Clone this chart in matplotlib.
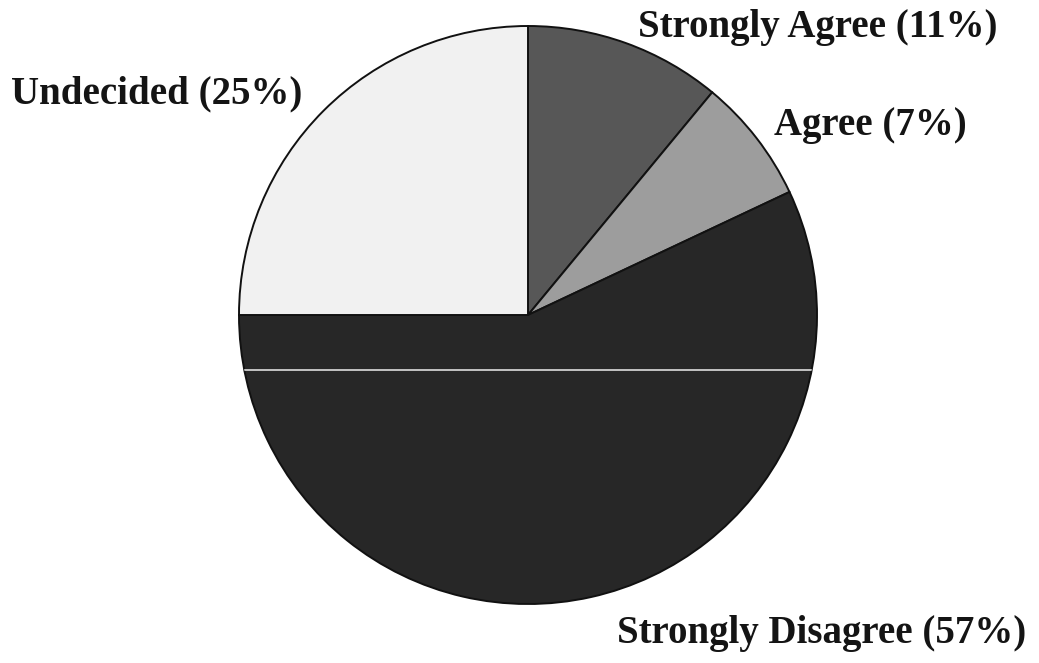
import matplotlib
matplotlib.use("Agg")
import matplotlib.pyplot as plt

# Survey responses, clockwise from 12 o'clock
labels = ['Strongly Agree', 'Agree', 'Strongly Disagree', 'Undecided']
shares = [11, 7, 57, 25]
colors = ['#575757', '#9d9d9d', '#272727', '#f1f1f1']

W, H = 1039, 663
fig = plt.figure(figsize=(W / 100, H / 100), dpi=100)
ax = fig.add_axes([0, 0, 1, 1])

cx, cy, r = 528, H - 315, 289
wedges, _ = ax.pie(shares, colors=colors, startangle=90, counterclock=False,
                   center=(cx, cy), radius=r, frame=True,
                   wedgeprops=dict(edgecolor='#111111', linewidth=1.4))
ax.set_xlim(0, W)
ax.set_ylim(0, H)
ax.axis('off')

# faint light streak across the dark slice
ax.axhline(H - 370, color='#d0d0d0', lw=1.3, clip_path=wedges[2])

font = dict(family='Liberation Serif', weight='bold', size=28, color='#141414')
label_pos = [(818, H - 27), (870, H - 126), (822, H - 634), (157, H - 94)]
for name, pct, (x, y) in zip(labels, shares, label_pos):
    ax.text(x, y, f"{name} ({pct}%)", ha='center', va='center', **font)

fig.savefig('out.png', dpi=100, facecolor='white')
